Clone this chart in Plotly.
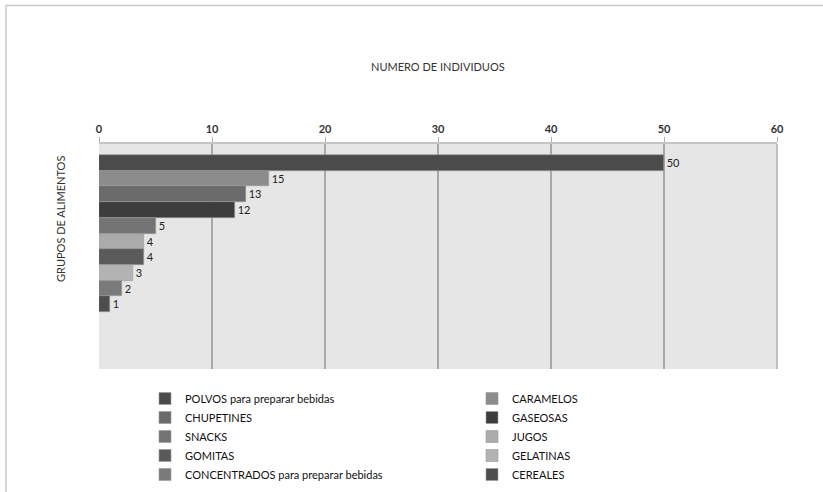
import plotly.graph_objects as go

# Food groups and the number of individuals per group
grupos = [
    "POLVOS para preparar bebidas",
    "CARAMELOS",
    "CHUPETINES",
    "GASEOSAS",
    "SNACKS",
    "JUGOS",
    "GOMITAS",
    "GELATINAS",
    "CONCENTRADOS para preparar bebidas",
    "CEREALES",
]
individuos = [50, 15, 13, 12, 5, 4, 4, 3, 2, 1]
colores = [
    "#4b4b4b", "#8c8c8c", "#6b6b6b", "#3d3d3d", "#747474",
    "#ababab", "#5a5a5a", "#b3b3b3", "#7a7a7a", "#4d4d4d",
]
categoria = ["Grupos"]
ticks_x = [0, 10, 20, 30, 40, 50, 60]

FONT = "Lato, 'Open Sans', sans-serif"

fig = go.Figure()
for nombre, valor, color in zip(grupos, individuos, colores):
    fig.add_trace(go.Bar(
        name=nombre,
        x=[valor],
        y=categoria,
        orientation="h",
        marker=dict(color=color, line=dict(color="#9a9a9a", width=0.6)),
        text=[str(valor)],
        textposition="outside",
        constraintext="none",
        textfont=dict(family=FONT, size=11, color="#222222"),
        cliponaxis=False,
    ))

fig.update_layout(
    width=823,
    height=492,
    barmode="group",
    bargap=0,
    bargroupgap=0,
    paper_bgcolor="white",
    plot_bgcolor="#e6e6e6",
    margin=dict(l=99, r=46, t=144, b=123, autoexpand=False),
    font=dict(family=FONT, size=11, color="#333333"),
    showlegend=True,
    legend=dict(
        orientation="h",
        entrywidth=282,
        entrywidthmode="pixels",
        x=(145 - 99) / 678,
        xanchor="left",
        y=(369 - 384) / 225,
        yanchor="top",
        itemwidth=30,
        font=dict(family=FONT, size=11, color="#111111"),
        traceorder="normal",
    ),
    xaxis=dict(
        side="top",
        range=[0, 60],
        tickvals=ticks_x,
        showgrid=True,
        gridcolor="#a8a8a8",
        gridwidth=1.5,
        zeroline=False,
        showline=True,
        linecolor="#c4c4c4",
        linewidth=1.5,
        ticks="outside",
        ticklen=5,
        tickcolor="#b0b0b0",
        tickfont=dict(family=FONT, size=11, color="#333333", weight="bold"),
        mirror=False,
    ),
    yaxis=dict(
        type="category",
        range=[0.863, -0.57],
        showticklabels=False,
        showgrid=False,
        zeroline=False,
        showline=False,
        ticks="",
    ),
    annotations=[
        dict(
            text="NUMERO DE INDIVIDUOS",
            xref="paper", yref="paper",
            x=0.5, y=(369 - 66) / 225,
            xanchor="center", yanchor="middle",
            showarrow=False,
            font=dict(family=FONT, size=11, color="#333333"),
        ),
        dict(
            text="GRUPOS DE ALIMENTOS",
            xref="paper", yref="paper",
            x=(60 - 99) / 678, y=(369 - 219) / 225,
            xanchor="center", yanchor="middle",
            textangle=-90,
            showarrow=False,
            font=dict(family=FONT, size=11, color="#333333"),
        ),
    ],
    shapes=[
        # chart-area border
        dict(
            type="rect", xref="paper", yref="paper",
            x0=(6 - 99) / 678, x1=(840 - 99) / 678,
            y0=(369 - 510) / 225, y1=(369 - 5.5) / 225,
            line=dict(color="#c8c8c8", width=1.5),
            fillcolor="rgba(0,0,0,0)",
            layer="below",
        ),
        # right edge of the plot area
        dict(
            type="line", xref="paper", yref="paper",
            x0=1, x1=1, y0=0, y1=1,
            line=dict(color="#b0b0b0", width=1.5),
        ),
    ],
)

fig.write_html("out.html")
